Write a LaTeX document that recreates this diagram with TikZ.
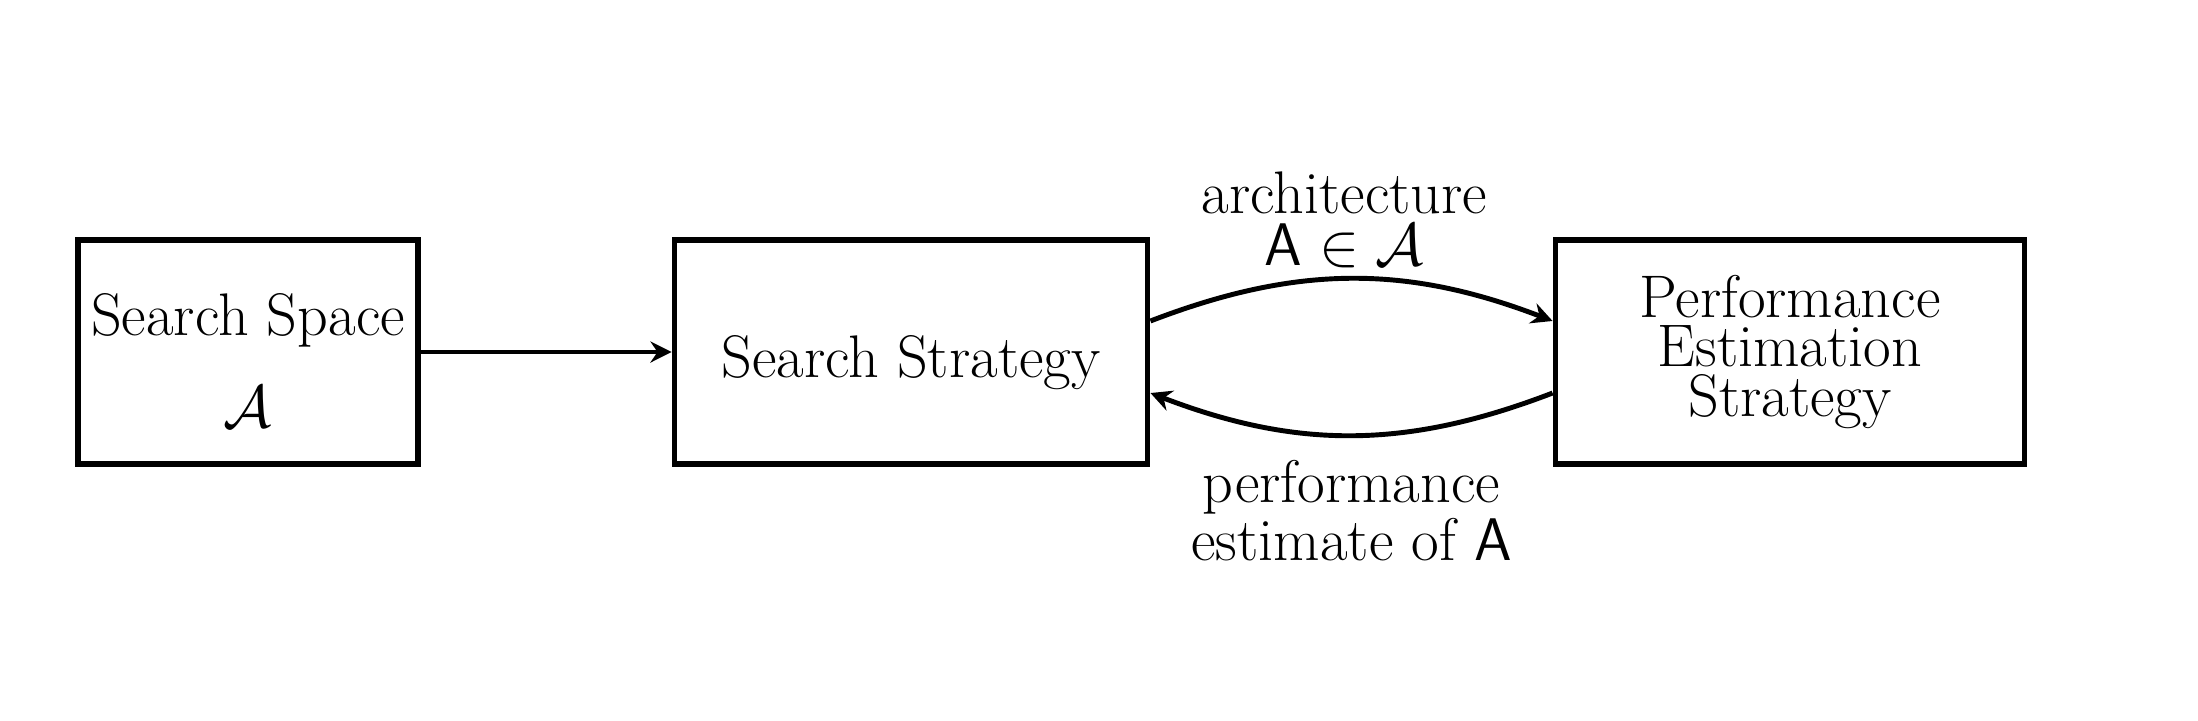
\RequirePackage{fix-cm}
\documentclass[tikz,border=0pt]{standalone}
\usetikzlibrary{arrows.meta}
\begin{document}
\begin{tikzpicture}[x=0.01cm,y=0.01cm,
  box/.style={draw, line width=1.6pt, inner sep=0pt, minimum height=2.24cm, align=center,
    font=\fontsize{17.1}{14.2}\selectfont},
  lbl/.style={align=center, font=\fontsize{17.1}{14.2}\selectfont},
  conn/.style={line width=1.4pt, -{Stealth[length=6pt,width=6pt,inset=2pt]}}]
\useasboundingbox (0,0) rectangle (2198,720);
\node[box, minimum width=3.40cm] (ss) at (248,368) {\rule{0pt}{16.9pt}Search Space\\[10.2pt]$\mathcal{A}$};
\node[box, minimum width=4.73cm] (st) at (911,368) {\rule{0pt}{18.1pt}Search Strategy};
\node[box, minimum width=4.69cm] (pe) at (1790,368) {Performance\\Estimation\\Strategy};
\draw[conn] (ss) -- (st);
\draw[conn] ([yshift=0.31cm]st.east) to[bend left=21]
  node[lbl, above, inner sep=2.5pt, xshift=-0.07cm] (la) {architecture\\[0.5pt]$\mathsf{A}\in\mathcal{A}$}
  ([yshift=0.31cm]pe.west);
\draw[conn] ([yshift=-0.41cm]pe.west) to[bend left=21]
  node[lbl, below, inner sep=6.5pt] (lb) {performance\\[0pt]estimate of $\mathsf{A}$}
  ([yshift=-0.41cm]st.east);
\end{tikzpicture}
\end{document}
